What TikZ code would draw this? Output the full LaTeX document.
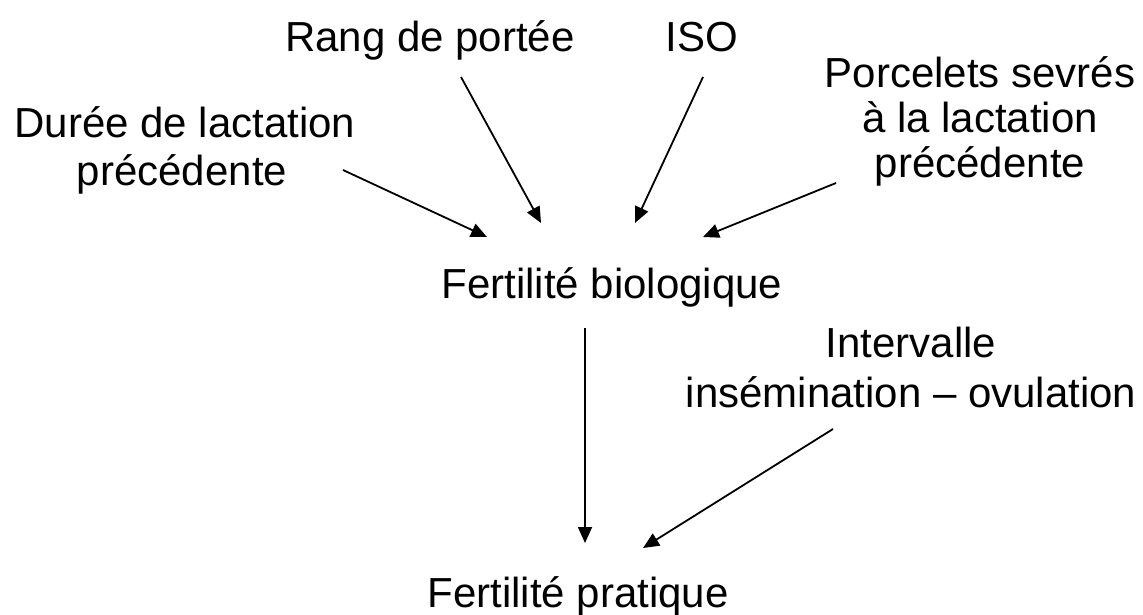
\documentclass[tikz,border=0pt]{standalone}
\usepackage{fontspec}
\setmainfont{Liberation Sans}
\usetikzlibrary{arrows.meta}
\begin{document}
\begin{tikzpicture}[x=1pt,y=-1pt,
  lbl/.style={anchor=base,inner sep=0pt,font=\fontsize{42}{48}\selectfont},
  arr/.style={line width=1.8pt,-{Triangle[length=16pt,width=14pt]}}]
\useasboundingbox (0,0) rectangle (1143,615);
\node[lbl] (rang) at (430,52) {Rang de portée};
\node[lbl] (iso) at (702,52) {ISO};
\node[lbl] (dur1) at (185,138) {Durée de lactation};
\node[lbl] (dur2) at (182,185) {précédente};
\node[lbl] (por1) at (980,88) {Porcelets sevrés};
\node[lbl] (por2) at (980,133) {à la lactation};
\node[lbl] (por3) at (980,178) {précédente};
\node[lbl] (fbio) at (612,298) {Fertilité biologique};
\node[lbl] (int1) at (911,357) {Intervalle};
\node[lbl] (int2) at (911,407) {insémination – ovulation};
\node[lbl] (fpra) at (578,607) {Fertilité pratique};
\coordinate (a1) at (343,170); \coordinate (b1) at (487,237);
\coordinate (a2) at (461,77);  \coordinate (b2) at (541,223);
\coordinate (a3) at (703,77);  \coordinate (b3) at (635,223);
\coordinate (a4) at (836,183); \coordinate (b4) at (703,237);
\coordinate (a5) at (585,328); \coordinate (b5) at (585,543);
\coordinate (a6) at (833,429); \coordinate (b6) at (643,548);
\draw[arr] (a1) -- (b1);
\draw[arr] (a2) -- (b2);
\draw[arr] (a3) -- (b3);
\draw[arr] (a4) -- (b4);
\draw[arr] (a5) -- (b5);
\draw[arr] (a6) -- (b6);
\end{tikzpicture}
\end{document}
